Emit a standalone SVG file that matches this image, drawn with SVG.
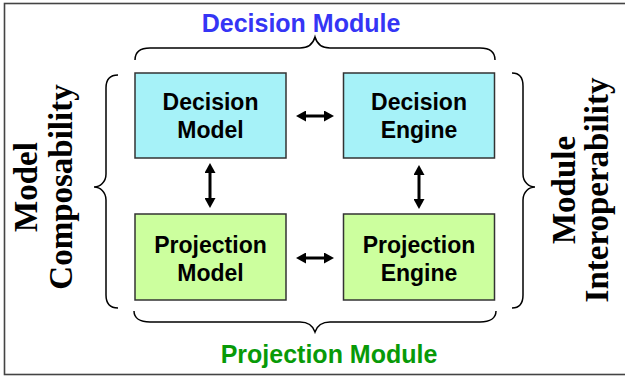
<svg xmlns="http://www.w3.org/2000/svg" width="625" height="379" viewBox="0 0 625 379">
  <defs>
    <marker id="ah" viewBox="0 0 10 11" refX="2" refY="5.5" markerWidth="10" markerHeight="11" markerUnits="userSpaceOnUse" orient="auto-start-reverse">
      <path d="M0,0 L10,5.5 L0,11 z" fill="#000"/>
    </marker>
  </defs>
  <style>
    .frame { fill: #fff; stroke: #444; stroke-width: 1.6; }
    .box { stroke: #333; stroke-width: 1.5; }
    .dec { fill: #a6f2f8; }
    .proj { fill: #ccff9e; }
    .lbl { font-family: "Liberation Sans", Arial, sans-serif; font-weight: bold; font-size: 23px; fill: #000; text-anchor: middle; }
    .title { font-family: "Liberation Sans", Arial, sans-serif; font-weight: bold; font-size: 25px; text-anchor: middle; }
    .side { font-family: "Liberation Serif", "Times New Roman", serif; font-weight: bold; font-size: 33px; fill: #000; text-anchor: middle; }
    .brace { fill: none; stroke: #000; stroke-width: 1.5; }
    .arr { stroke: #000; stroke-width: 3; fill: none; marker-start: url(#ah); marker-end: url(#ah); }
  </style>
  <rect class="frame" x="4.5" y="3.5" width="640" height="371"/>

  <g id="title-decision-module">
    <text class="title" x="301" y="32" fill="#3535f5">Decision Module</text>
    <path class="brace" d="M135,60 C135,52 140,48 150,48 L300,48 C308,48 313,44 315,37 C317,44 322,48 330,48 L480,48 C490,48 495,52 495,60"/>
  </g>
  <g id="title-projection-module">
    <text class="title" x="329" y="363" fill="#089a08">Projection Module</text>
    <path class="brace" d="M134,311 C134,318 140,322 150,322 L300,322 C308,322 313,326 315,332 C317,326 322,322 330,322 L480,322 C490,322 496,318 496,311"/>
  </g>
  <g id="label-model-composability">
    <path class="brace" d="M118,75 C110,75 106,79 106,88 L106,174 C106,182 100,187 94,187 C100,187 106,192 106,200 L106,295 C106,304 110,308 118,308"/>
    <text class="side" transform="translate(37,187) rotate(-90)">Model</text>
    <text class="side" transform="translate(72,187) rotate(-90)">Composability</text>
  </g>
  <g id="label-module-interoperability">
    <path class="brace" d="M512,73 C519,73 523,77 523,86 L523,174 C523,182 529,187 535,187 C529,187 523,192 523,200 L523,295 C523,304 519,308 512,308"/>
    <text class="side" transform="translate(575,190) rotate(-90)">Module</text>
    <text class="side" transform="translate(608,190) rotate(-90)">Interoperability</text>
  </g>

  <g id="decision-model">
    <rect class="box dec" x="135" y="73" width="151" height="85"/>
    <text class="lbl" x="210.5" y="110">Decision</text>
    <text class="lbl" x="210.5" y="138">Model</text>
  </g>
  <g id="decision-engine">
    <rect class="box dec" x="343.5" y="73" width="151" height="85"/>
    <text class="lbl" x="419" y="110">Decision</text>
    <text class="lbl" x="419" y="138">Engine</text>
  </g>
  <g id="projection-model">
    <rect class="box proj" x="135" y="214" width="151" height="86"/>
    <text class="lbl" x="210.5" y="253">Projection</text>
    <text class="lbl" x="210.5" y="281">Model</text>
  </g>
  <g id="projection-engine">
    <rect class="box proj" x="343.5" y="214" width="151" height="86"/>
    <text class="lbl" x="419" y="253">Projection</text>
    <text class="lbl" x="419" y="281">Engine</text>
  </g>

  <g id="connectors">
    <line class="arr" x1="304" y1="116" x2="326" y2="116"/>
    <line class="arr" x1="304" y1="258" x2="326" y2="258"/>
    <line class="arr" x1="210" y1="171" x2="210" y2="200"/>
    <line class="arr" x1="419" y1="173" x2="419" y2="201"/>
  </g>
</svg>
